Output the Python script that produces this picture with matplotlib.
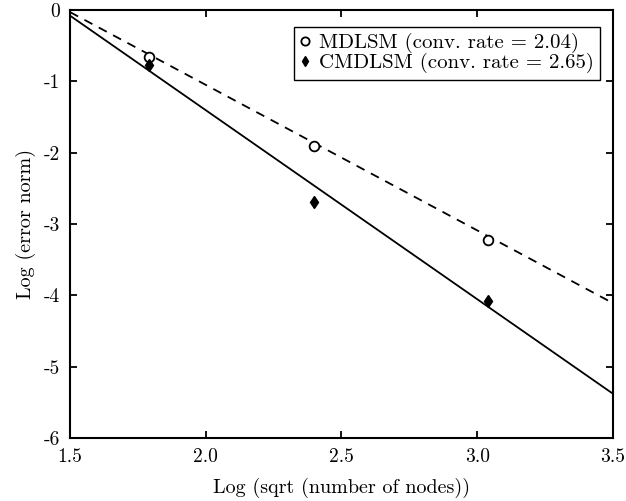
import matplotlib.pyplot as plt

plt.rcParams['font.family'] = ['cmr10', 'DejaVu Serif']
plt.rcParams['mathtext.fontset'] = 'cm'
plt.rcParams['axes.unicode_minus'] = False

# data
x_nodes = [1.79, 2.40, 3.04]
mdlsm_err = [-0.66, -1.91, -3.23]
cmdlsm_err = [-0.77, -2.69, -4.08]

# fitted lines (end points)
fit_x = [1.5, 3.5]
mdlsm_fit = [-0.03, -4.11]
cmdlsm_fit = [-0.08, -5.38]

xticks = [1.5, 2.0, 2.5, 3.0, 3.5]
xticklabels = ['1.5', '2.0', '2.5', '3.0', '3.5']
yticks = [0, -1, -2, -3, -4, -5, -6]
yticklabels = ['0', '-1', '-2', '-3', '-4', '-5', '-6']

fig = plt.figure(figsize=(6.26, 5.01), dpi=100)
ax = fig.add_axes([0.112, 0.126, 0.867, 0.854])

ax.plot(fit_x, mdlsm_fit, 'k--', lw=1.3, dashes=(5, 4))
ax.plot(fit_x, cmdlsm_fit, 'k-', lw=1.3)
ax.plot(x_nodes, mdlsm_err, 'o', mfc='white', mec='k', mew=1.3, ms=7,
        label='MDLSM (conv. rate = 2.04)')
ax.plot(x_nodes, cmdlsm_err, 'd', color='k', ms=6.5,
        label='CMDLSM (conv. rate = 2.65)')

ax.set_xlim(1.5, 3.5)
ax.set_ylim(-6, 0)
ax.set_xticks(xticks)
ax.set_xticklabels(xticklabels)
ax.set_yticks(yticks)
ax.set_yticklabels(yticklabels)
ax.tick_params(direction='in', top=True, right=True, labelsize=14, width=1.3, length=5, pad=7)
for s in ax.spines.values():
    s.set_linewidth(1.5)

ax.set_xlabel('Log (sqrt (number of nodes))', fontsize=14.5, labelpad=9)
ax.set_ylabel('Log (error norm)', fontsize=14.5, labelpad=6)

leg = ax.legend(loc='upper right', fontsize=15, fancybox=False, edgecolor='k',
                handlelength=0.5, handletextpad=0.4, borderpad=0.3,
                labelspacing=0.0, framealpha=1, markerscale=0.85,
                bbox_to_anchor=(0.995, 0.985))
leg.get_frame().set_linewidth(1.0)

plt.savefig('out.png', dpi=100)
